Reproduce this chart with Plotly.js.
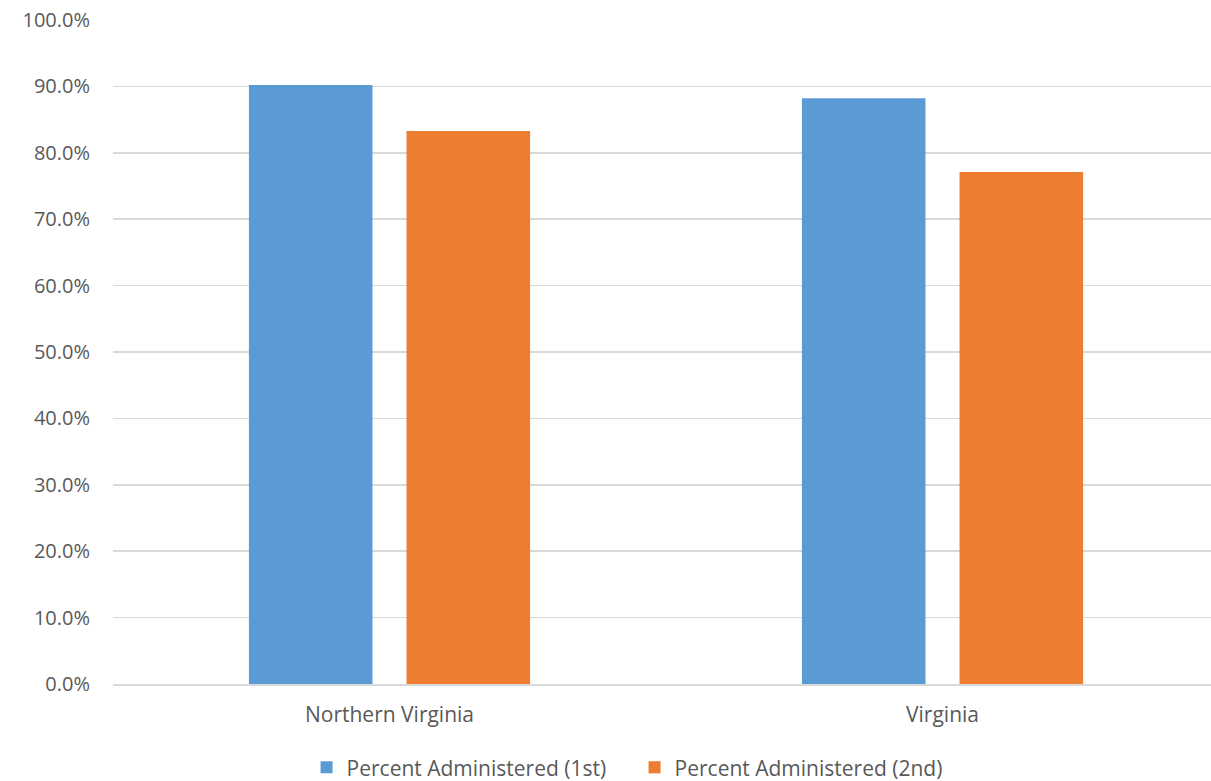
<!DOCTYPE html>
<html>
<head>
<meta charset="utf-8">
<script src="https://cdn.plot.ly/plotly-3.0.1.min.js"></script>
<style>html,body{margin:0;padding:0;background:#fff;}#chart{width:1211px;height:781px;}</style>
</head>
<body>
<div id="chart"></div>
<script>
var categories = ["Northern Virginia", "Virginia"];
var firstDose = [0.902, 0.882];
var secondDose = [0.833, 0.771];
var seriesNames = ["Percent Administered (1st)", "Percent Administered (2nd)"];
var yTicks = [0, 0.1, 0.2, 0.3, 0.4, 0.5, 0.6, 0.7, 0.8, 0.9, 1.0];

var fontFam = "Open Sans, Calibri, Carlito, sans-serif";
var textColor = "#595959";

var traces = [
  {type: "bar", x: categories, y: firstDose, name: seriesNames[0],
   marker: {color: "#5B9BD5"}, hoverinfo: "y"},
  {type: "bar", x: categories, y: secondDose, name: seriesNames[1],
   marker: {color: "#ED7D31"}, hoverinfo: "y"}
];

var layout = {
  width: 1211, height: 781,
  margin: {l: 113, r: 0, t: 20, b: 96.5, pad: 0},
  paper_bgcolor: "#ffffff", plot_bgcolor: "#ffffff",
  font: {family: fontFam, color: textColor, size: 20},
  barmode: "group",
  bargap: 0.43,
  bargroupgap: 0.216,
  xaxis: {
    type: "category",
    range: [-0.5, 1.4855],
    showgrid: false,
    showline: true, linecolor: "#d9d9d9", linewidth: 1.5,
    ticks: "", ticklabelstandoff: 11,
    tickfont: {size: 21, color: textColor, family: fontFam},
    zeroline: false, fixedrange: true
  },
  yaxis: {
    range: [0, 1.0],
    tickvals: yTicks,
    tickformat: ".1%",
    showgrid: true, gridcolor: "#d9d9d9", gridwidth: 1.5,
    zeroline: false, showline: false,
    ticks: "", ticklabelstandoff: 22,
    tickfont: {size: 20, color: textColor, family: fontFam},
    fixedrange: true
  },
  showlegend: true,
  legend: {
    orientation: "h",
    xref: "container", yref: "container",
    x: 0.524, xanchor: "center",
    y: 0.017, yanchor: "middle",
    entrywidth: 283, entrywidthmode: "pixels",
    font: {size: 21, color: textColor, family: fontFam},
    itemclick: false, itemdoubleclick: false,
    traceorder: "normal"
  }
};

Plotly.newPlot("chart", traces, layout, {displayModeBar: false, staticPlot: true});
</script>
</body>
</html>
